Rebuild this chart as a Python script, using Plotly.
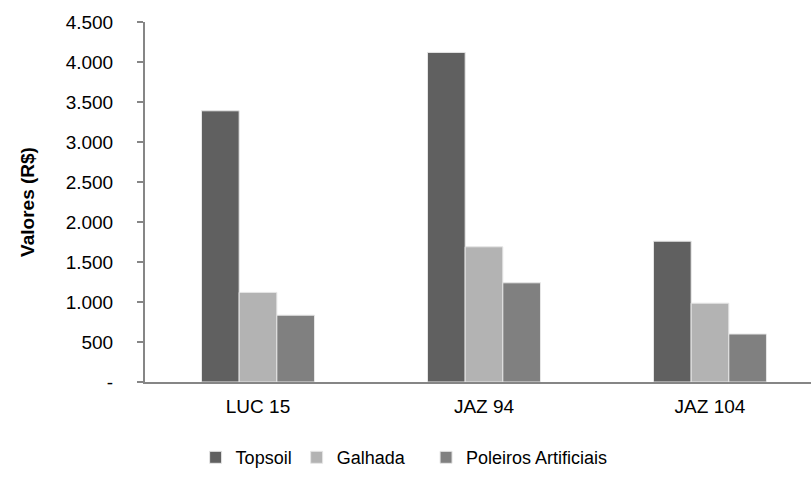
import plotly.graph_objects as go

# Custo por área e técnica de restauração
categorias = ["LUC 15", "JAZ 94", "JAZ 104"]
topsoil = [3390, 4120, 1760]
galhada = [1120, 1690, 985]
poleiros = [835, 1240, 600]

y_ticks = [0, 500, 1000, 1500, 2000, 2500, 3000, 3500, 4000, 4500]
y_tick_text = ["-", "500", "1.000", "1.500", "2.000", "2.500",
               "3.000", "3.500", "4.000", "4.500"]

# (nome, valores, cor, legenda)
series = [
    ("Topsoil", topsoil, "#606060", "legend"),
    ("Galhada", galhada, "#b3b3b3", "legend"),
    ("Poleiros Artificiais", poleiros, "#808080", "legend2"),
]

fig = go.Figure()
for nome, valores, cor, leg in series:
    fig.add_trace(go.Bar(
        name=nome, x=categorias, y=valores, legend=leg,
        marker=dict(color=cor, line=dict(color="#e6e6e6", width=1)),
    ))

font_family = "Liberation Sans, Arial, sans-serif"
legend_style = dict(
    orientation="h", xanchor="left", y=-0.21, yanchor="middle",
    font=dict(size=18), itemwidth=30, tracegroupgap=0,
    bgcolor="rgba(0,0,0,0)",
)

fig.update_layout(
    width=811, height=495,
    margin=dict(l=145, r=0, t=22, b=113),
    paper_bgcolor="white", plot_bgcolor="white",
    barmode="group", bargap=0.5, bargroupgap=0,
    font=dict(family=font_family, size=19, color="#000000"),
    showlegend=True,
    legend=dict(x=0.076, **legend_style),
    legend2=dict(x=0.422, **legend_style),
    xaxis=dict(
        range=[-0.5, 2.447], showgrid=False, showline=True,
        linecolor="#868686", linewidth=2, ticks="",
        tickfont=dict(size=19), ticklabelstandoff=6, fixedrange=True,
    ),
    yaxis=dict(
        range=[0, 4500], tickvals=y_ticks, ticktext=y_tick_text,
        showgrid=False, showline=True, linecolor="#868686", linewidth=2,
        ticks="outside", ticklen=6, tickcolor="#868686", tickwidth=2,
        ticklabelstandoff=20, tickfont=dict(size=19), zeroline=False,
        title=dict(text="<b>Valores (R$)</b>", font=dict(size=19), standoff=26),
    ),
)

fig.write_html("out.html")
